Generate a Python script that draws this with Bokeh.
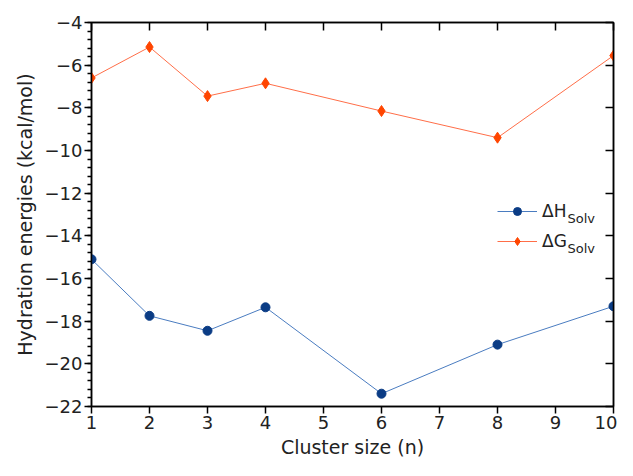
import numpy as np
from bokeh.plotting import figure
from bokeh.models import (LinearAxis, FixedTicker, Range1d, Label)
from bokeh.embed import file_html
from bokeh.resources import INLINE

# ---- data ----
cluster_size = [1, 2, 3, 4, 6, 8, 10]
dH_solv = [-15.1, -17.75, -18.45, -17.35, -21.4, -19.1, -17.3]
dG_solv = [-6.6, -5.15, -7.45, -6.85, -8.15, -9.4, -5.55]
x_ticks = [1, 2, 3, 4, 5, 6, 7, 8, 9, 10]
y_ticks = [-22, -20, -18, -16, -14, -12, -10, -8, -6, -4]

FONT = "DejaVu Sans"

p = figure(width=617, height=460, output_backend="svg", toolbar_location=None,
           x_range=Range1d(1, 10), y_range=Range1d(-22, -4),
           min_border_left=91, min_border_right=4, min_border_top=22,
           min_border_bottom=52)
p.xgrid.visible = False
p.ygrid.visible = False
p.outline_line_color = "black"
p.outline_line_width = 1.5

# lines and markers
p.line(cluster_size, dH_solv, line_color="#4a7cc0", line_width=1, legend_label="ΔH")
p.scatter(cluster_size, dH_solv, marker="circle", size=9, fill_color="#0b3c85",
          line_color="#0b3c85", legend_label="ΔH")
p.line(cluster_size, dG_solv, line_color="#ff6e48", line_width=1, legend_label="ΔG")
p.scatter(cluster_size, dG_solv, marker="diamond", size=11, fill_color="#ff4500",
          line_color="#ff4500", legend_label="ΔG")

minor = [round(float(v), 2) for v in np.arange(y_ticks[0], y_ticks[-1] + 0.001, 0.4)]
yt = FixedTicker(ticks=y_ticks, minor_ticks=minor)
xt = FixedTicker(ticks=x_ticks, minor_ticks=[])

def style(ax):
    ax.axis_line_width = 1.5
    ax.axis_line_color = "black"
    ax.major_tick_line_width = 1.5
    ax.major_tick_line_color = "black"
    ax.minor_tick_line_width = 1.5
    ax.minor_tick_line_color = "black"
    ax.major_label_text_font = FONT
    ax.major_label_text_font_size = "18px"
    ax.major_label_text_color = "#222222"
    ax.axis_label_text_font = FONT
    ax.axis_label_text_font_size = "19px"
    ax.axis_label_text_font_style = "normal"
    ax.axis_label_text_color = "#222222"

# left axis
la = p.yaxis[0]
la.ticker = yt
style(la)
la.major_tick_out = 7
la.major_tick_in = 0
la.minor_tick_out = 4
la.minor_tick_in = 0
la.major_label_standoff = 2
la.axis_label = "Hydration energies (kcal/mol)"
la.axis_label_standoff = 6
la.major_label_overrides = {v: "\u2212" + str(abs(v)) for v in y_ticks}

# bottom axis
ba = p.xaxis[0]
ba.ticker = xt
style(ba)
ba.major_tick_out = 7
ba.major_tick_in = 0
ba.major_label_standoff = 2
ba.axis_label = "Cluster size (n)"
ba.axis_label_standoff = 4

# right axis (inward ticks, no labels)
ra = LinearAxis(ticker=FixedTicker(ticks=y_ticks, minor_ticks=[]))
style(ra)
ra.major_tick_in = 8
ra.major_tick_out = 0
ra.minor_tick_in = 0
ra.minor_tick_out = 0
ra.major_label_standoff = 0
ra.major_label_overrides = {v: "" for v in y_ticks}
p.add_layout(ra, "right")

# top axis (inward ticks, no labels)
ta = LinearAxis(ticker=FixedTicker(ticks=x_ticks, minor_ticks=[]))
style(ta)
ta.major_tick_in = 8
ta.major_tick_out = 0
ta.minor_tick_in = 0
ta.minor_tick_out = 0
ta.major_label_standoff = 0
ta.major_label_overrides = {v: "" for v in x_ticks}
p.add_layout(ta, "above")

# legend
lg = p.legend[0]
lg.location = (406, 155)
lg.padding = 0
lg.margin = 0
lg.spacing = 10
lg.glyph_width = 40
lg.glyph_height = 20
lg.label_height = 20
lg.label_standoff = 5
lg.border_line_alpha = 0
lg.background_fill_alpha = 0
lg.label_text_font = FONT
lg.label_text_font_size = "17px"
lg.label_text_color = "#222222"

for ys in (188, 158):
    p.add_layout(Label(x=476, y=ys, x_units="screen", y_units="screen", text="Solv",
                       text_font=FONT, text_font_size="13px", text_color="#222222",
                       text_baseline="middle", text_align="left"))

open("out.html", "w").write(file_html(p, INLINE))
